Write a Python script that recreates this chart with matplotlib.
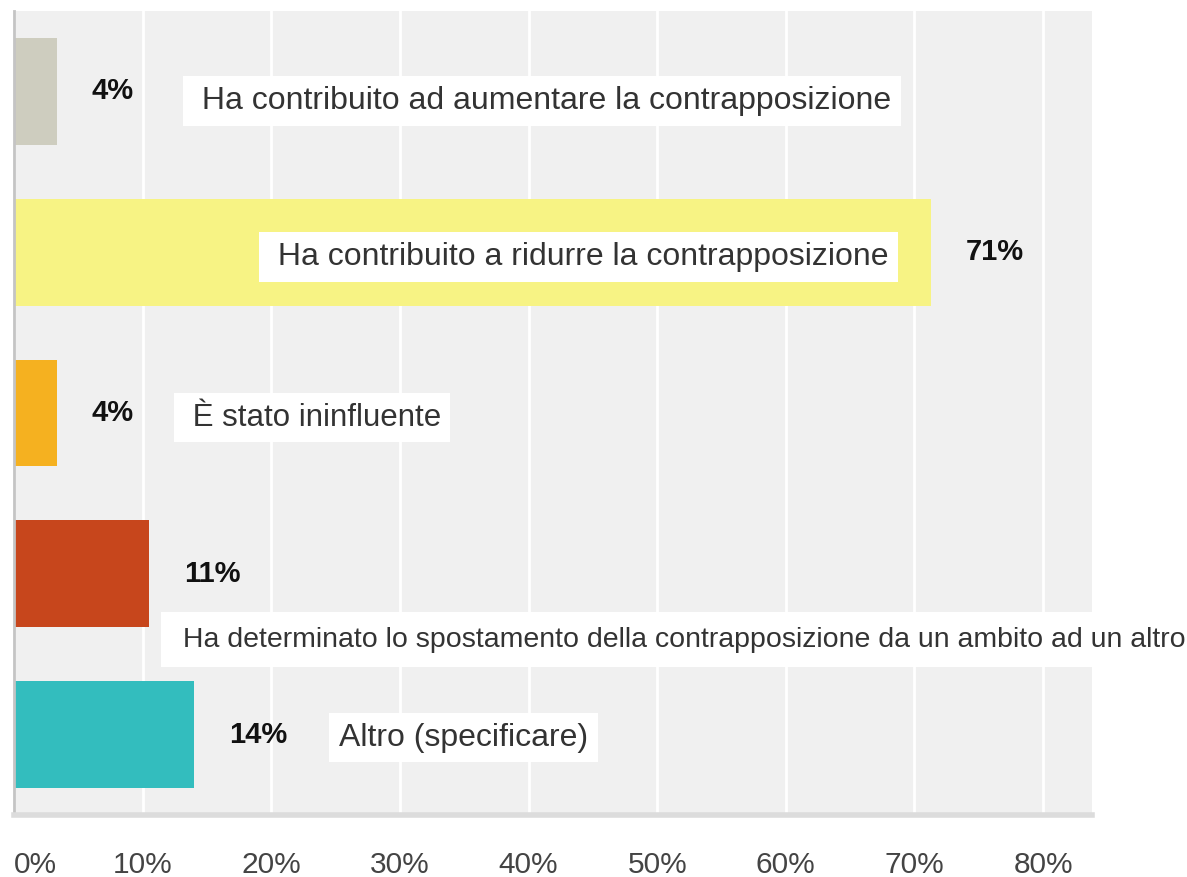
#plot survey answers as horizontal bars
import matplotlib.pyplot as plt
import numpy as np

plt.rcParams['font.family'] = ['Liberation Sans', 'DejaVu Sans']

answers = [' Ha contribuito ad aumentare la contrapposizione',
           ' Ha contribuito a ridurre la contrapposizione',
           ' È stato ininfluente',
           ' Ha determinato lo spostamento della contrapposizione da un ambito ad un altro',
           'Altro (specificare)']
percent = [3.35, 71.3, 3.35, 10.5, 14.0]
pct_labels = ['4%', '71%', '4%', '11%', '14%']
colors = ['#cecdbf', '#f7f384', '#f5b120', '#c7461c', '#33bdbe']
ticks = [0, 10, 20, 30, 40, 50, 60, 70, 80]
tick_labels = ['0%', '10%', '20%', '30%', '40%', '50%', '60%', '70%', '80%']

# where each answer box sits (x in percent, y offset in bar units, font size, box pad)
label_x = [13.9, 19.8, 13.2, 12.5, 25.25]
label_dy = [0.06, 0.03, 0.03, 0.41, 0.02]
label_size = [23, 23, 22.5, 20.5, 23]
label_pad = [0.3, 0.3, 0.3, 0.5, 0.3]

fig = plt.figure(figsize=(11.87, 8.77), dpi=100)
ax = fig.add_axes([14 / 1187, 1 - 815 / 877, (1092 - 14) / 1187, (815 - 11) / 877])
ax.set_facecolor('#f0f0f0')

y = np.arange(len(answers))
ax.barh(y, percent, height=0.665, color=colors, zorder=2)

for i in range(len(answers)):
    ax.text(percent[i] + 2.7, y[i], pct_labels[i], fontsize=21, fontweight='bold',
            color='#111111', va='center', ha='left', zorder=3)
    ax.text(label_x[i], y[i] + label_dy[i], answers[i], fontsize=label_size[i],
            color='#333333', va='center', ha='left', zorder=4, clip_on=False,
            bbox=dict(boxstyle='square,pad=%s' % label_pad[i], facecolor='white',
                      edgecolor='none'))

ax.set_xlim(0, 83.8)
ax.set_ylim(4.5, -0.5)
ax.set_xticks(ticks)
ax.set_xticklabels(tick_labels, fontsize=21.5, color='#444444')
ax.get_xticklabels()[0].set_horizontalalignment('left')
ax.tick_params(axis='x', length=0, pad=26)
ax.set_yticks([])
ax.grid(axis='x', color='white', linewidth=2, zorder=1)
ax.set_axisbelow(True)

for s in ['top', 'right']:
    ax.spines[s].set_visible(False)
ax.spines['left'].set_color('#c4c4c4')
ax.spines['left'].set_linewidth(2)
ax.spines['bottom'].set_color('#dcdcdc')
ax.spines['bottom'].set_linewidth(4)

fig.savefig('out.png', dpi=100)
